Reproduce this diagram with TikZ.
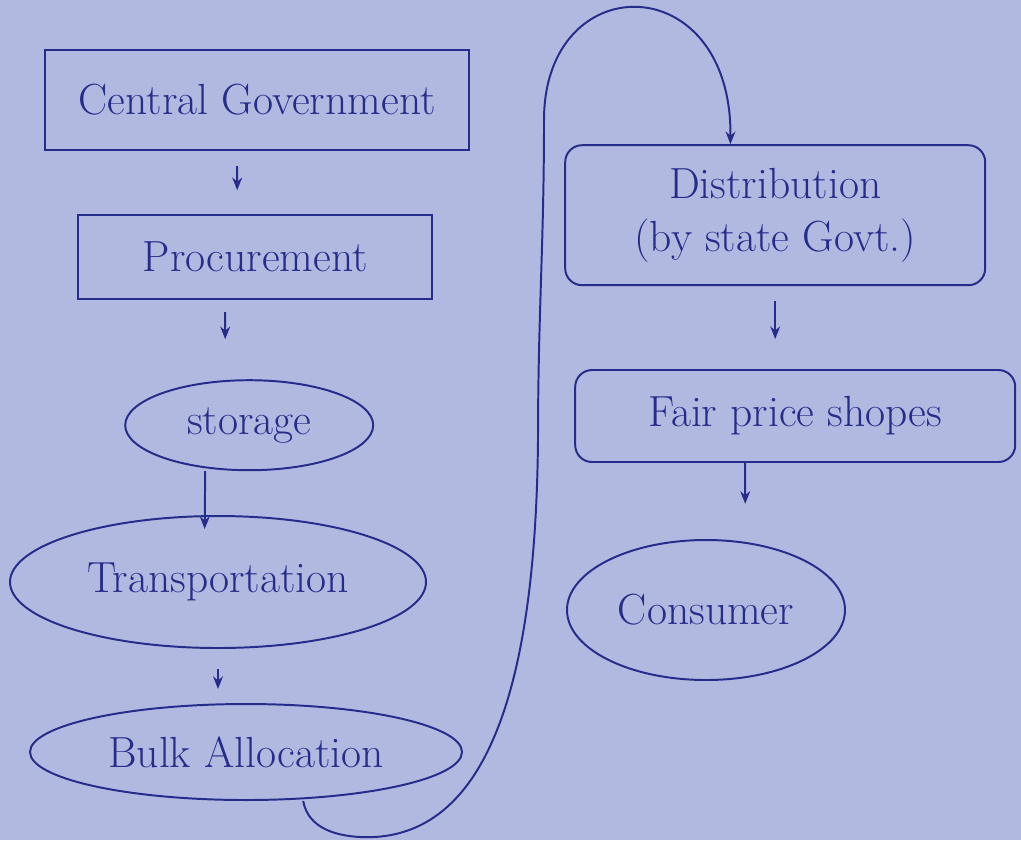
\documentclass[tikz,border=0pt]{standalone}
\usepackage{tikz}
\usetikzlibrary{shapes.geometric,arrows.meta}

\definecolor{paper}{RGB}{178,185,224}
\definecolor{ink}{RGB}{38,44,138}

\begin{document}
\begin{tikzpicture}
% Flow style
\tikzset{
    every node/.style={text=ink, font=\fontsize{31}{38}\selectfont},
    box/.style={draw=ink, line width=1.4pt, inner sep=0pt},
    oval/.style={draw=ink, line width=1.4pt, ellipse, inner sep=0pt},
    flow/.style={draw=ink, line width=1.4pt, -{Stealth[length=9pt,width=7pt]}}
}
% Paper
\useasboundingbox (0,0) rectangle (25.525,-21);
\fill[paper] (0,0) rectangle (25.525,-21);
% Left column
\node[box, minimum width=10.6cm, minimum height=2.5cm] (CG) at (6.43,-2.5){Central Government};
\node[box, minimum width=8.85cm, minimum height=2.1cm] (PROC) at (6.38,-6.43){Procurement};
\node[oval, minimum width=6.2cm, minimum height=2.25cm] (STOR) at (6.23,-10.63){storage};
\node[oval, minimum width=10.4cm, minimum height=3.3cm] (TRANS) at (5.45,-14.55){Transportation};
\node[oval, minimum width=10.8cm, minimum height=2.4cm] (BULK) at (6.15,-18.8){Bulk Allocation};
% Right column
\node[box, rounded corners=12pt, minimum width=10.5cm, minimum height=3.5cm, align=center] (DIST) at (19.38,-5.38){Distribution\\(by state Govt.)};
\node[box, rounded corners=12pt, minimum width=11cm, minimum height=2.3cm] (FPS) at (19.88,-10.4){Fair price shopes};
\node[oval, minimum width=6.95cm, minimum height=3.5cm] (CONS) at (17.65,-15.25){Consumer};
% Connections
\draw[flow, shorten <=0.38cm, shorten >=0.6cm] ([xshift=-0.5cm]CG.south) -- ([xshift=-0.45cm]PROC.north);
\draw[flow, shorten <=0.3cm, shorten >=1cm] ([xshift=-0.75cm]PROC.south) -- ([xshift=-0.6cm]STOR.north);
\draw[flow, shorten >=-0.35cm] ([xshift=-1.1cm]STOR.south) -- ([xshift=-0.33cm]TRANS.north);
\draw[flow, shorten <=0.5cm, shorten >=0.35cm] (TRANS.south) -- ([xshift=-0.7cm]BULK.north);
\draw[flow, shorten <=0.38cm, shorten >=0.75cm] (DIST.south) -- ([xshift=-0.5cm]FPS.north);
\draw[flow, shorten >=0.88cm] ([xshift=-1.25cm]FPS.south) -- ([xshift=0.98cm]CONS.north);
% Loop from allocation to distribution
\draw[flow] ([xshift=1.43cm]BULK.south) to[out=-80,in=180] (9.2,-20.93)
    .. controls (12.6,-20.9) and (13.4,-16) .. (13.45,-11)
    to[out=90,in=-90] (13.6,-3)
    .. controls (13.6,0.84) and (18.3,0.84) .. ([xshift=-1.12cm]DIST.north);
\end{tikzpicture}
\end{document}
